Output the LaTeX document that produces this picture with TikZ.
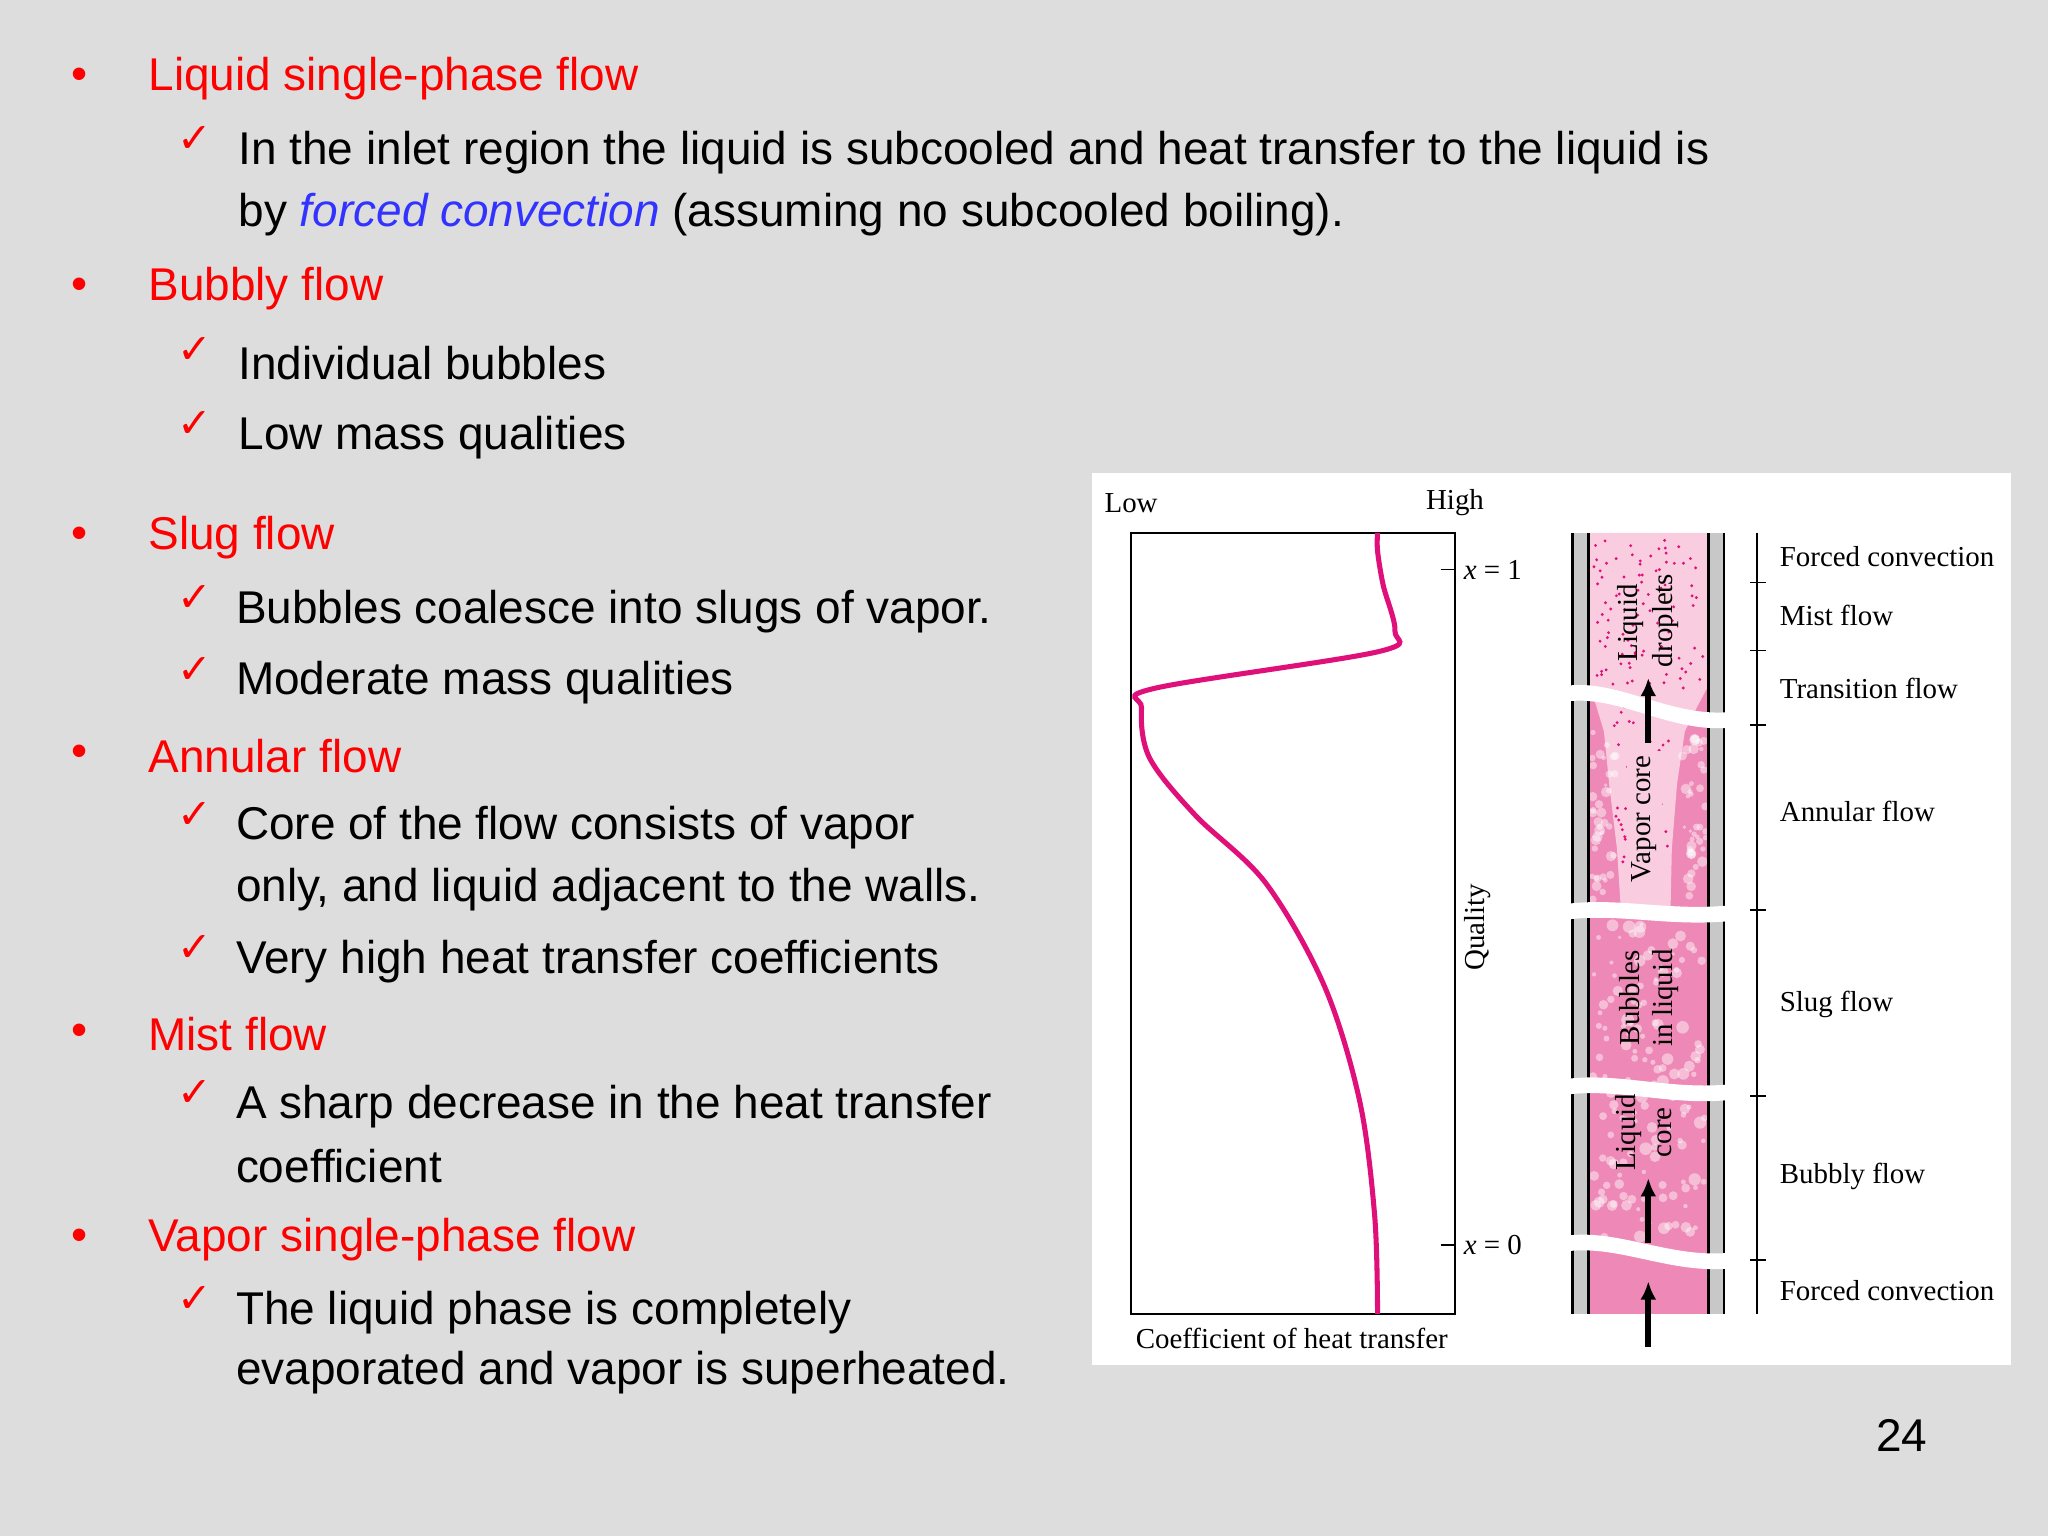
\documentclass[tikz,border=0pt]{standalone}
\usepackage{fontspec}
\setmainfont{Liberation Sans}
\newfontfamily\serf{Liberation Serif}
\newfontfamily\djv{DejaVu Sans}
\usetikzlibrary{arrows.meta}
\definecolor{bg}{HTML}{DDDDDD}
\definecolor{rd}{HTML}{FF0000}
\definecolor{bl}{HTML}{3333FF}
\definecolor{crv}{HTML}{E0107A}
\definecolor{dpk}{HTML}{EE88B6}
\definecolor{lpk}{HTML}{F9CCDF}
\definecolor{wal}{HTML}{C8C8C8}
\tikzset{
 head/.style={anchor=west,inner sep=0,text=rd,font=\fontsize{10}{13.4}\selectfont},
 body/.style={anchor=west,inner sep=0,font=\fontsize{10}{13.4}\selectfont},
 bul/.style={inner sep=0,text=rd,font=\fontsize{10}{12}\selectfont},
 chk/.style={inner sep=0,text=rd,font=\djv\fontsize{9}{10}\selectfont},
 lab/.style={inner sep=0,font=\serf\fontsize{6.3}{7.5}\selectfont},
 rlab/.style={lab,anchor=west},
 arr/.style={line width=1.3pt,-{Latex[length=4pt,width=3.5pt]}},
}
\newcommand{\pipebreak}[2]{\fill[white] (1200,#1) .. controls (1240,#1-5) and (1280,#2+5) .. (1326,#2) -- (1326,#2+12) .. controls (1280,#2+17) and (1240,#1+7) .. (1200,#1+12) -- cycle;}
\begin{document}
\begin{tikzpicture}[x=0.01cm,y=-0.01cm]
\fill[bg] (0,0) rectangle (1568,1176);
\useasboundingbox (0,0) rectangle (1568,1176);
% bullets text
\foreach \y in {60,221,412,579,792,949} \node[bul] at (61,\y) {•};
\foreach \y in {107,268,325,458,513,624,726,837,995} \node[chk] at (149,\y) {✓};
\node[head] (h1) at (113,60) {Liquid single-phase flow};
\node[body] (t1) at (182,117) {In the inlet region the liquid is subcooled and heat transfer to the liquid is};
\node[body] (t2) at (182,164) {by {\color{bl}\itshape forced convection} (assuming no subcooled boiling).};
\node[head] (h2) at (113,221) {Bubbly flow};
\node[body] (t3) at (182,278) {Individual bubbles};
\node[body] (t4) at (182,335) {Low mass qualities};
\node[head] (h3) at (113,412) {Slug flow};
\node[body] (t5) at (180,468) {Bubbles coalesce into slugs of vapor.};
\node[body] (t6) at (180,523) {Moderate mass qualities};
\node[head] (h4) at (113,579) {Annular flow};
\node[body] (t7) at (180,634) {Core of the flow consists of vapor};
\node[body] (t8) at (180,681) {only, and liquid adjacent to the walls.};
\node[body] (t9) at (180,736) {Very high heat transfer coefficients};
\node[head] (h5) at (113,792) {Mist flow};
\node[body] (t10) at (180,847) {A sharp decrease in the heat transfer};
\node[body] (t11) at (180,893) {coefficient};
\node[head] (h6) at (113,949) {Vapor single-phase flow};
\node[body] (t12) at (180,1005) {The liquid phase is completely};
\node[body] (t13) at (180,1051) {evaporated and vapor is superheated.};
\node[body,anchor=center] (pg) at (1456,1099) {24};
% figure panel
\fill[white] (836,362) rectangle (1540,1045);
\draw[line width=0.6pt] (866,408) rectangle (1114,1006);
\node[lab] (low) at (866,385) {Low};
\node[lab] (high) at (1114,385) {High};
\draw (1103,436) -- (1114,436); \node[lab,anchor=west] (x1) at (1120,436) {\itshape x\upshape{} = 1};
\draw (1103,953) -- (1114,953); \node[lab,anchor=west] (x0) at (1120,953) {\itshape x\upshape{} = 0};
\node[lab,rotate=90] (q) at (1131,710) {Quality};
\node[lab] (coef) at (989,1025) {Coefficient of heat transfer};
\draw[crv,line width=1.1pt] plot[smooth,tension=0.55] coordinates{(1054.7,408) (1054.7,422) (1059,448) (1068,483) (1055,499) (884,527) (874,542) (880,580) (915,624) (969,676) (1014,755) (1041,843) (1052.5,931) (1054.7,1006)};
% pipe
\fill[dpk] (1216,408) rectangle (1308,1006);
\fill[lpk] (1216,408) -- (1308,408) -- (1308,525) -- (1300,540) -- (1290,560) -- (1284,600) -- (1280,650) -- (1279,697) -- (1241,697) -- (1238,650) -- (1232,600) -- (1228,560) -- (1222,540) -- (1216,525) -- cycle;
\pgfmathsetseed{7}
\foreach \i in {1,...,90}{\pgfmathsetmacro\xx{1220+rnd*85}\pgfmathsetmacro\yy{412+rnd*115}\fill[crv] (\xx,\yy) circle[radius=0.35pt];}
\foreach \i in {1,...,50}{\pgfmathsetmacro\xx{1236+rnd*42}\pgfmathsetmacro\yy{540+rnd*120}\fill[crv] (\xx,\yy) circle[radius=0.35pt];}
\foreach \i in {1,...,140}{\pgfmathsetmacro\xx{1219+rnd*86}\pgfmathsetmacro\yy{700+rnd*250}\fill[white,opacity=0.45] (\xx,\yy) circle[radius={0.4pt+rnd*1pt}];}
\foreach \i in {1,...,40}{\pgfmathsetmacro\xx{1219+rnd*18}\pgfmathsetmacro\yy{560+rnd*135}\fill[white,opacity=0.45] (\xx,\yy) circle[radius={0.4pt+rnd*0.8pt}];}
\foreach \i in {1,...,40}{\pgfmathsetmacro\xx{1288+rnd*18}\pgfmathsetmacro\yy{560+rnd*135}\fill[white,opacity=0.45] (\xx,\yy) circle[radius={0.4pt+rnd*0.8pt}];}
\fill[wal] (1204,408) rectangle (1216,1006);
\fill[wal] (1308,408) rectangle (1320,1006);
\draw[line width=0.6pt] (1204,408) -- (1204,1006) (1216,408) -- (1216,1006) (1308,408) -- (1308,1006) (1320,408) -- (1320,1006);
\pipebreak{525}{545}
\pipebreak{692}{693}
\pipebreak{826}{830}
\pipebreak{946}{959}
\coordinate (a1s) at (1262,569); \coordinate (a1e) at (1262,519);
\coordinate (a2s) at (1262,952); \coordinate (a2e) at (1262,902);
\coordinate (a3s) at (1262,1031); \coordinate (a3e) at (1262,981);
\draw[arr] (a1s) -- (a1e); \draw[arr] (a2s) -- (a2e); \draw[arr] (a3s) -- (a3e);
\node[lab,rotate=90] (ld) at (1248,477) {Liquid};
\node[lab,rotate=90] (dr) at (1275,475) {droplets};
\node[lab,rotate=90,fill=lpk,inner sep=1pt] (vc) at (1259,627) {Vapor core};
\node[lab,rotate=90] (bb) at (1248,764) {Bubbles};
\node[lab,rotate=90] (il) at (1275,764) {in liquid};
\node[lab,rotate=90] (lq) at (1247,867) {Liquid};
\node[lab,rotate=90] (co) at (1275,867) {core};
% scale
\draw (1345,408) -- (1345,1006);
\foreach \y in {446,498,555,697,839,965} \draw (1340,\y) -- (1352,\y);
\node[rlab] (r1) at (1362,426) {Forced convection};
\node[rlab] (r2) at (1362,471) {Mist flow};
\node[rlab] (r3) at (1362,527) {Transition flow};
\node[rlab] (r4) at (1362,621) {Annular flow};
\node[rlab] (r5) at (1362,769) {Slug flow};
\node[rlab] (r6) at (1362,901) {Bubbly flow};
\node[rlab] (r7) at (1362,988) {Forced convection};
\end{tikzpicture}
\end{document}
